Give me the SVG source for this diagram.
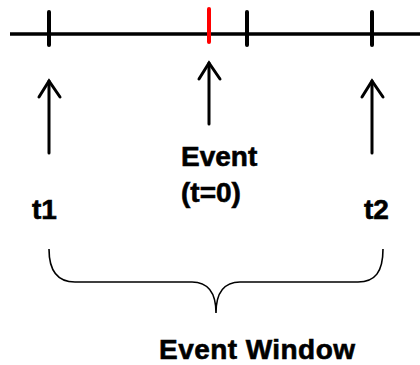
<svg xmlns="http://www.w3.org/2000/svg" width="420" height="365" viewBox="0 0 420 365">
<style>
.ln{stroke:#000;stroke-width:3;fill:none;stroke-linecap:round;stroke-linejoin:miter}
.tk{stroke:#000;stroke-width:4;stroke-linecap:round}
.red{stroke:#ff0000;stroke-width:4;stroke-linecap:round}
.lbl{font-family:"Liberation Sans",Arial,sans-serif;font-weight:bold;font-size:28px;fill:#000;stroke:#000;stroke-width:0.6}
.brace{stroke:#000;stroke-width:1.6;fill:none}
</style>
<rect width="420" height="365" fill="#fff"/>
<g id="timeline">
<line x1="10" y1="34" x2="420" y2="34" stroke="#000" stroke-width="3.5"/>
<line class="tk" x1="49" y1="12" x2="49" y2="45"/>
<line class="red" x1="209" y1="9" x2="209" y2="42"/>
<line class="tk" x1="247" y1="12" x2="247" y2="45"/>
<line class="tk" x1="372" y1="12" x2="372" y2="45"/>
</g>
<g id="connectors">
<line class="ln" x1="49" y1="153" x2="49" y2="81"/>
<polyline class="ln" points="39,97 49,81 60,97"/>
<line class="ln" x1="209" y1="124" x2="209" y2="63"/>
<polyline class="ln" points="199,79 209,63 220,79"/>
<line class="ln" x1="372" y1="153" x2="372" y2="81"/>
<polyline class="ln" points="362,97 372,81 383,97"/>
</g>
<g id="t1"><text class="lbl" x="32" y="219">t1</text></g>
<g id="event"><text class="lbl" x="181" y="166">Event</text><text class="lbl" x="181" y="202">(t=0)</text></g>
<g id="t2"><text class="lbl" x="364" y="219">t2</text></g>
<g id="brace">
<path class="brace" d="M49,249 C49,272 58,282 75,282 L192,282 C207,282 216,292 216,313 C216,292 225,282 240,282 L358,282 C375,282 383,272 383,249"/>
</g>
<g id="window"><text class="lbl" x="159" y="359" textLength="196">Event Window</text></g>
</svg>
